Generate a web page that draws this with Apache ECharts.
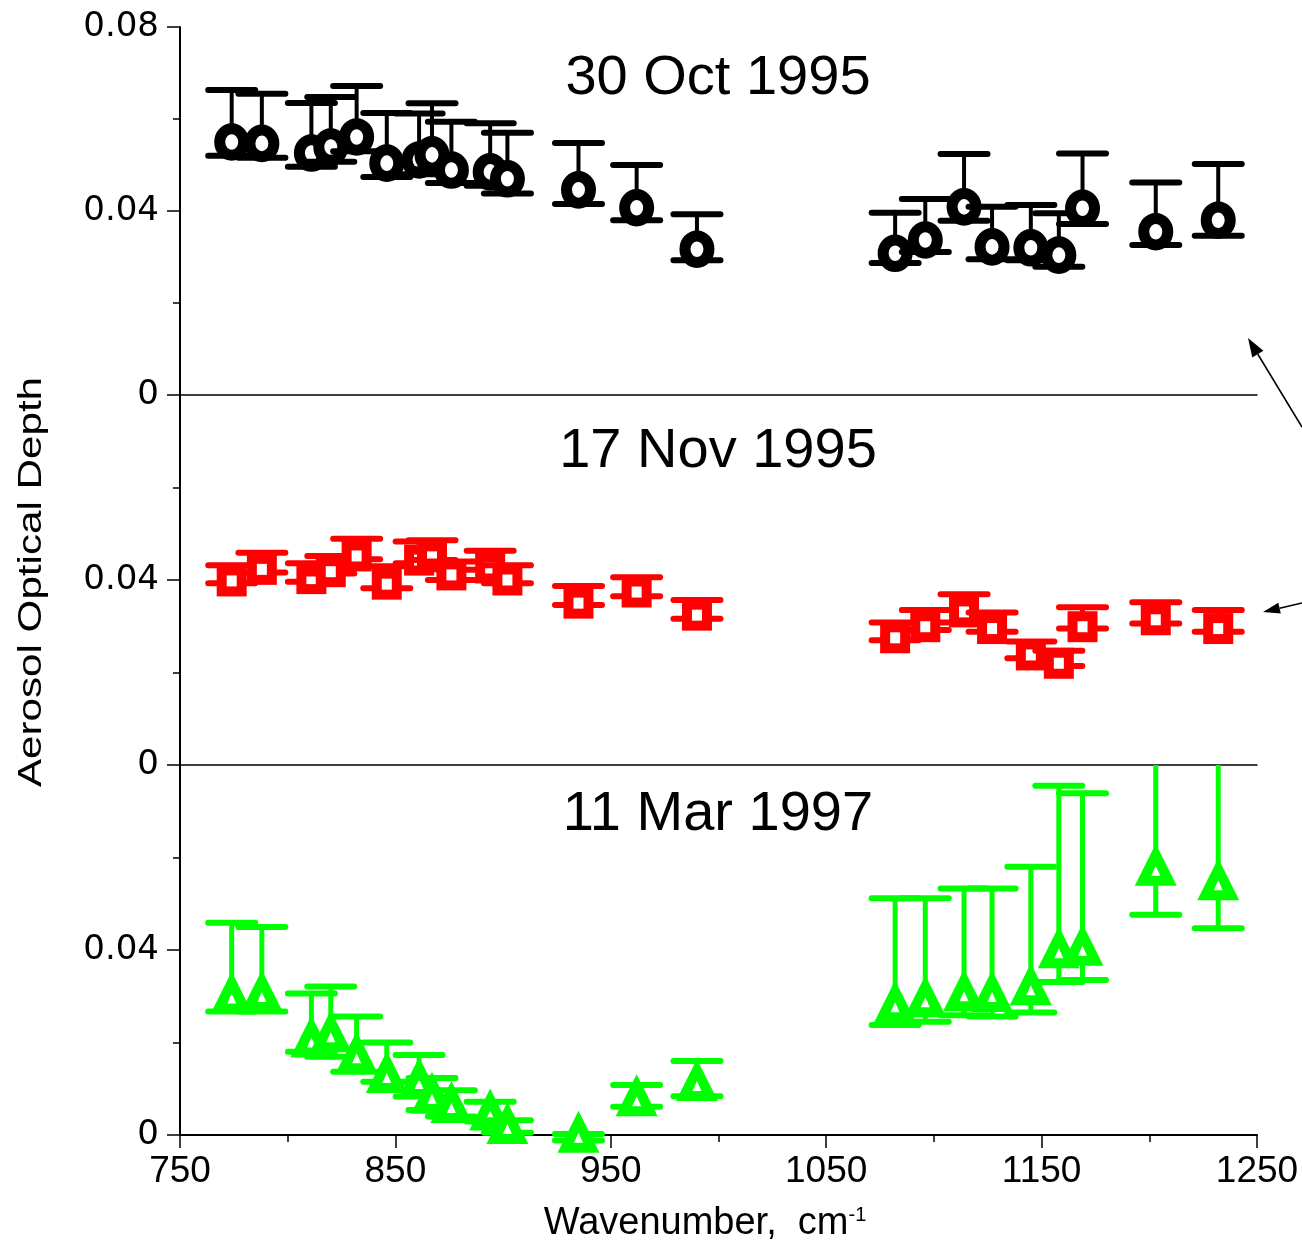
<!DOCTYPE html>
<html>
<head>
<meta charset="utf-8">
<script src="https://cdn.jsdelivr.net/npm/echarts@6/dist/echarts.min.js"></script>
<style>
  html, body { margin: 0; padding: 0; background: #fff; }
  #chart { width: 1302px; height: 1253px; }
</style>
</head>
<body>
<div id="chart"></div>
<script>
// Spectral channels (cm^-1) shared by all three observation days
const wavenumber = [774, 788, 811, 820, 832, 846, 861, 867, 876, 894, 902, 935, 962, 990,
                    1082, 1096, 1114, 1127, 1145, 1158, 1169, 1203, 1232];

// 30 Oct 1995
const octAod  = [0.0550, 0.0547, 0.0526, 0.0539, 0.0561, 0.0504, 0.0511, 0.0522, 0.0489, 0.0485, 0.0470, 0.0446, 0.0407, 0.0317,
                 0.0308, 0.0337, 0.0409, 0.0322, 0.0320, 0.0304, 0.0406, 0.0355, 0.0380];
const octHigh = [0.0663, 0.0655, 0.0635, 0.0648, 0.0672, 0.0613, 0.0612, 0.0634, 0.0594, 0.0591, 0.0570, 0.0548, 0.0500, 0.0393,
                 0.0396, 0.0426, 0.0524, 0.0409, 0.0413, 0.0395, 0.0525, 0.0462, 0.0502];
const octLow  = [0.0520, 0.0516, 0.0496, 0.0507, 0.0530, 0.0474, 0.0480, 0.0491, 0.0461, 0.0455, 0.0438, 0.0415, 0.0380, 0.0293,
                 0.0287, 0.0311, 0.0379, 0.0295, 0.0293, 0.0279, 0.0372, 0.0326, 0.0346];

// 17 Nov 1995
const novAod  = [0.0398, 0.0423, 0.0403, 0.0418, 0.0452, 0.0391, 0.0443, 0.0450, 0.0411, 0.0426, 0.0400, 0.0350, 0.0374, 0.0324,
                 0.0275, 0.0299, 0.0331, 0.0295, 0.0238, 0.0220, 0.0299, 0.0314, 0.0295];
const novHigh = [0.0432, 0.0459, 0.0436, 0.0452, 0.0489, 0.0430, 0.0483, 0.0486, 0.0440, 0.0463, 0.0432, 0.0387, 0.0406, 0.0357,
                 0.0308, 0.0335, 0.0369, 0.0330, 0.0267, 0.0247, 0.0341, 0.0352, 0.0335];
const novLow  = [0.0393, 0.0416, 0.0396, 0.0414, 0.0445, 0.0382, 0.0436, 0.0443, 0.0400, 0.0422, 0.0393, 0.0346, 0.0365, 0.0316,
                 0.0270, 0.0292, 0.0308, 0.0288, 0.0231, 0.0214, 0.0295, 0.0306, 0.0288];

// 11 Mar 1997
const marAod  = [0.0293, 0.0296, 0.0198, 0.0209, 0.0164, 0.0121, 0.0108, 0.0076, 0.0056, 0.0040, 0.0011, -0.0008, 0.0071, 0.0104,
                 0.0274, 0.0285, 0.0298, 0.0296, 0.0311, 0.0391, 0.0396, 0.0569, 0.0538];
const marHigh = [0.0459, 0.0450, 0.0306, 0.0321, 0.0256, 0.0200, 0.0173, 0.0123, 0.0097, 0.0072, 0.0032, 0.0002, 0.0108, 0.0160,
                 0.0512, 0.0512, 0.0533, 0.0533, 0.0580, 0.0755, 0.0739, 0.0900, 0.0900];
const marLow  = [0.0267, 0.0267, 0.0180, 0.0169, 0.0137, 0.0115, 0.0083, 0.0054, 0.0040, 0.0029, 0.0005, -0.0012, 0.0061, 0.0084,
                 0.0238, 0.0245, 0.0259, 0.0256, 0.0265, 0.0331, 0.0335, 0.0476, 0.0447];

const panelTitles = ['30 Oct 1995', '17 Nov 1995', '11 Mar 1997'];
const xTicks = [750, 1250, 100];       // min, max, label step
const yTicks = [0, 0.08, 0.04];        // min, max, label step

const FONT = '"Liberation Sans", Arial, sans-serif';
const CAP_HALF = 23.5;

function rows(aod, low, high) {
  return wavenumber.map((w, i) => [w, aod[i], low[i], high[i]]);
}

// Vertical error bar with wide caps; the upper part is cut at the panel top
function errorBar(params, api, color, stemWidth) {
  const x = api.value(0);
  const p = api.coord([x, api.value(1)]);
  const pl = api.coord([x, api.value(2)]);
  const ph = api.coord([x, api.value(3)]);
  const top = params.coordSys.y;
  const hy = Math.max(ph[1], top);
  const parts = [
    { type: 'line', shape: { x1: p[0], y1: pl[1], x2: p[0], y2: hy },
      style: { stroke: color, lineWidth: stemWidth } },
    { type: 'line', shape: { x1: p[0] - CAP_HALF, y1: pl[1], x2: p[0] + CAP_HALF, y2: pl[1] },
      style: { stroke: color, lineWidth: 6, lineCap: 'round' } }
  ];
  if (ph[1] >= top) {
    parts.push({ type: 'line', shape: { x1: p[0] - CAP_HALF, y1: ph[1], x2: p[0] + CAP_HALF, y2: ph[1] },
      style: { stroke: color, lineWidth: 6, lineCap: 'round' } });
  }
  return { p, parts };
}

function renderCircle(params, api) {
  const { p, parts } = errorBar(params, api, '#000000', 4);
  parts.push({ type: 'ellipse', shape: { cx: p[0], cy: p[1], rx: 12, ry: 13.3 },
    style: { fill: '#ffffff', stroke: '#000000', lineWidth: 11 } });
  return { type: 'group', children: parts };
}

function renderSquare(params, api) {
  const { p, parts } = errorBar(params, api, '#ff0000', 5);
  parts.push({ type: 'rect', shape: { x: p[0] - 15, y: p[1] - 15.5, width: 30, height: 31 },
    style: { fill: '#ff0000' } });
  parts.push({ type: 'rect', shape: { x: p[0] - 5, y: p[1] - 5.5, width: 10, height: 11 },
    style: { fill: '#ffffff' } });
  return { type: 'group', children: parts };
}

function renderTriangle(params, api) {
  const { p, parts } = errorBar(params, api, '#00ff00', 5);
  const [cx, cy] = p;
  parts.push({ type: 'polygon', shape: { points: [[cx, cy - 28], [cx - 21, cy + 14], [cx + 21, cy + 14]] },
    style: { fill: '#00ff00' } });
  parts.push({ type: 'polygon', shape: { points: [[cx, cy - 6], [cx - 4.5, cy + 4], [cx + 4.5, cy + 4]] },
    style: { fill: '#ffffff' } });
  return { type: 'group', children: parts };
}

function arrow(x1, y1, x2, y2, len, half) {
  const dx = x2 - x1, dy = y2 - y1;
  const d = Math.hypot(dx, dy);
  const ux = dx / d, uy = dy / d;
  const bx = x2 - ux * len, by = y2 - uy * len;
  return [
    { type: 'line', shape: { x1, y1, x2: bx, y2: by }, style: { stroke: '#000', lineWidth: 1.6 } },
    { type: 'polygon', shape: { points: [[x2, y2], [bx - uy * half, by + ux * half], [bx + uy * half, by - ux * half]] },
      style: { fill: '#000' } }
  ];
}

const grids = [
  { left: 180, right: 45, top: 27, height: 368 },
  { left: 180, right: 45, top: 395, height: 370 },
  { left: 180, right: 45, top: 765, height: 370 }
].map(g => Object.assign(g, { containLabel: false, outerBoundsMode: 'none' }));

const xAxes = grids.map((g, i) => {
  const last = i === 2;
  return {
    type: 'value', gridIndex: i, min: xTicks[0], max: xTicks[1], interval: xTicks[2],
    splitLine: { show: false },
    axisLine: { show: true, onZero: false, lineStyle: { color: '#000', width: last ? 2 : 1.5 } },
    axisTick: { show: last, length: 13, lineStyle: { color: '#000', width: 1.5 } },
    minorTick: { show: last, splitNumber: 2, length: 7, lineStyle: { color: '#000', width: 1.5 } },
    axisLabel: { show: last, margin: 18, color: '#000', fontSize: 37, fontFamily: FONT,
                 formatter: v => String(Math.round(v)) }
  };
});

const yAxes = grids.map((g, i) => ({
  type: 'value', gridIndex: i, min: yTicks[0], max: yTicks[1], interval: yTicks[2],
  splitLine: { show: false },
  axisLine: { show: true, lineStyle: { color: '#000', width: 2 } },
  axisTick: { show: true, length: 13, lineStyle: { color: '#000', width: 1.5 } },
  minorTick: { show: true, splitNumber: 2, length: 7, lineStyle: { color: '#000', width: 1.5 } },
  axisLabel: {
    margin: 21, color: '#000', fontSize: 34, fontFamily: '"DejaVu Sans", sans-serif',
    formatter: v => {
      if (Math.abs(v) < 1e-9) return '0';
      if (i > 0 && Math.abs(v - yTicks[1]) < 1e-9) return '';
      return v.toFixed(2);
    }
  }
}));

const titleY = [79, 452, 815];
const titleGraphics = panelTitles.map((t, i) => ({
  type: 'text', x: 718, y: titleY[i],
  style: { text: t, fontSize: 56, fontFamily: FONT, fill: '#000',
           align: 'center', verticalAlign: 'middle', textAlign: 'center', textVerticalAlign: 'middle' }
}));

const option = {
  animation: false,
  backgroundColor: '#ffffff',
  grid: grids,
  xAxis: xAxes,
  yAxis: yAxes,
  series: [
    { type: 'custom', xAxisIndex: 0, yAxisIndex: 0, data: rows(octAod, octLow, octHigh),
      encode: { x: 0, y: [1, 2, 3] }, renderItem: renderCircle },
    { type: 'custom', xAxisIndex: 1, yAxisIndex: 1, data: rows(novAod, novLow, novHigh),
      encode: { x: 0, y: [1, 2, 3] }, renderItem: renderSquare },
    { type: 'custom', xAxisIndex: 2, yAxisIndex: 2, data: rows(marAod, marLow, marHigh),
      encode: { x: 0, y: [1, 2, 3] }, renderItem: renderTriangle }
  ],
  graphic: [
    ...titleGraphics,
    { type: 'text', x: 32, y: 582, rotation: Math.PI / 2, scaleX: 1.24,
      style: { text: 'Aerosol Optical Depth', fontSize: 34, fontFamily: FONT, fill: '#000',
               align: 'center', verticalAlign: 'middle', textAlign: 'center', textVerticalAlign: 'middle' } },
    { type: 'text', x: 705, y: 1224,
      style: { text: '{a|Wavenumber,  cm}{s|-1}', fill: '#000',
               align: 'center', verticalAlign: 'middle', textAlign: 'center', textVerticalAlign: 'middle',
               rich: {
                 a: { fontSize: 38, fontFamily: FONT, fill: '#000', verticalAlign: 'bottom' },
                 s: { fontSize: 20, fontFamily: FONT, fill: '#000', verticalAlign: 'top' }
               } } },
    ...arrow(1302, 427, 1248, 338, 19, 6.5),
    ...arrow(1302, 603, 1263, 612, 17, 5.5)
  ]
};

const chart = echarts.init(document.getElementById('chart'), null, { renderer: 'canvas' });
chart.setOption(option);
</script>
</body>
</html>
